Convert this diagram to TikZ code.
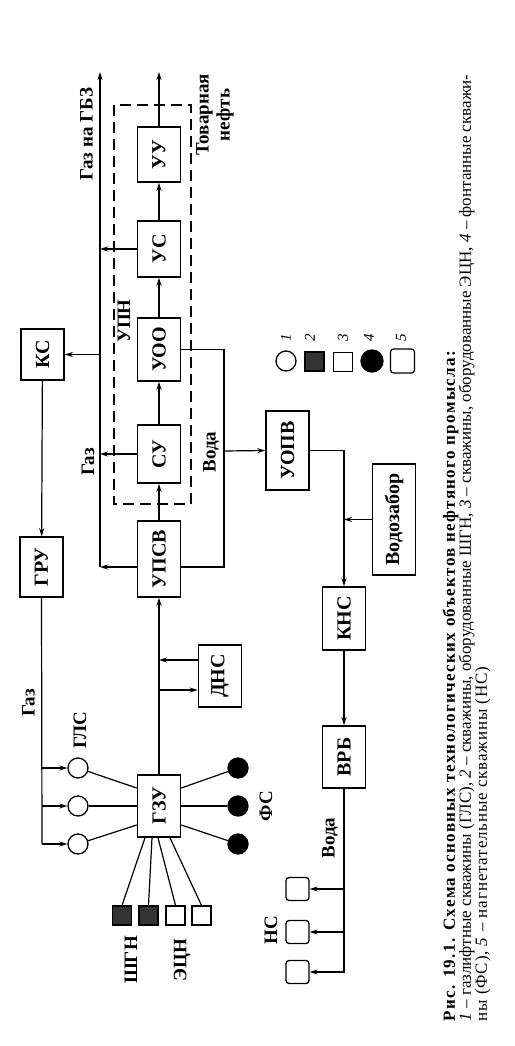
\documentclass[tikz,border=0pt]{standalone}
\usepackage{fontspec}
\setmainfont{Liberation Serif}
\usetikzlibrary{arrows.meta}

\begin{document}
\begin{tikzpicture}[x=1pt, y=-1pt, >={Stealth[length=8pt,width=5pt]}, line width=1.2pt,
  box/.style={draw, line width=1.6pt, rotate=90, minimum height=43pt, inner sep=0pt,
    font=\bfseries\fontsize{20}{22}\selectfont},
  lbl/.style={rotate=90, inner sep=0pt, font=\bfseries\fontsize{19}{21}\selectfont},
  num/.style={rotate=90, inner sep=0pt, font=\itshape\fontsize{15}{15}\selectfont},
  gls/.style={circle, draw, line width=1.3pt, minimum size=20pt, inner sep=0pt},
  fs/.style={gls, fill=black},
  shgn/.style={rectangle, draw, fill=black!80, line width=1.2pt, minimum size=19pt, inner sep=0pt},
  ecn/.style={rectangle, draw, line width=1.3pt, minimum size=19pt, inner sep=0pt},
  ns/.style={rectangle, rounded corners=3pt, draw, line width=1.3pt, minimum size=23pt, inner sep=0pt},
  upnbox/.style={line width=1.1pt, dash pattern=on 11pt off 6pt}]
  \useasboundingbox (0,0) rectangle (514,1046);
  % main blocks
  \node[box, minimum width=51pt] (ks) at (42.5,354.5) {КС};
  \node[box, minimum width=60pt] (gru) at (41.5,567) {ГРУ};
  \node[box, minimum width=76pt] (upsv) at (159,559) {УПСВ};
  \node[box, minimum width=58pt] (su) at (159,454) {СУ};
  \node[box, minimum width=63pt] (uoo) at (159,349.5) {УОО};
  \node[box, minimum width=56pt] (us) at (159,249) {УС};
  \node[box, minimum width=55pt] (uu) at (159,154.5) {УУ};
  \node[box, minimum width=79pt] (uopv) at (287.5,450.5) {УОПВ};
  \node[box, minimum width=111pt] (vz) at (394,519.5) {Водозабор};
  \node[box, minimum width=63pt] (kns) at (344,618.5) {КНС};
  \node[box, minimum width=62pt] (dns) at (220,676) {ДНС};
  \node[box, minimum width=62pt] (vrb) at (344,757) {ВРБ};
  \node[box, minimum width=62pt] (gzu) at (159,806) {ГЗУ};
  % UPN frame
  \draw[upnbox] (114,105) rectangle (191,504);
  \node[lbl] (upn) at (124,321) {УПН};
  % oil line
  \coordinate (otop) at (159,72);
  \draw[->] (gzu) -- (upsv);
  \draw[->] (upsv) -- (su);
  \draw[->] (su) -- (uoo);
  \draw[->] (uoo) -- (us);
  \draw[->] (us) -- (uu);
  \draw[->] (uu) -- (otop);
  \node[lbl, align=center] (oil) at (215,115) {Товарная\\нефть};
  % DNS loop
  \draw[->] ([yshift=-14pt]dns.north -| gzu) -- ([yshift=-14pt]dns.north);
  \draw[->] ([yshift=16pt]dns.north) -- ([yshift=16pt]dns.north -| gzu);
  % gas line
  \coordinate (gtop) at (100,72);
  \coordinate (gbot) at (100,567);
  \draw[->] (gbot) -- (gtop);
  \draw[->] ([yshift=-8pt]upsv.north) -- (gbot);
  \draw[->] (su.north) -- (su.north -| gtop);
  \draw[->] (us.north) -- (us.north -| gtop);
  \draw[->] (ks.south -| gtop) -- (ks.south);
  \node[lbl] (gasgbz) at (86.5,134) {Газ на ГБЗ};
  \node[lbl] (gas1) at (88,462) {Газ};
  % gas lift
  \draw[->] (ks) -- (gru);
  \coordinate (gbus) at (42,844);
  \draw (gru.west) -- (gbus);
  \node[lbl] (gas2) at (28.5,703) {Газ};
  \node[lbl] (glsl) at (80,730) {ГЛС};
  \node[gls] (gls1) at (78,768) {};
  \node[gls] (gls2) at (78,806) {};
  \node[gls] (gls3) at (78,844) {};
  \foreach \i in {1,2,3}
    \draw[->] (gls\i -| gbus) -- (gls\i);
  \draw (gls1) -- ([yshift=18pt]gzu.north);
  \draw (gls2) -- (gzu.north);
  \draw (gls3) -- ([yshift=-19pt]gzu.north);
  % flowing wells
  \node[fs] (fs1) at (238,768) {};
  \node[fs] (fs2) at (238,806) {};
  \node[fs] (fs3) at (238,844) {};
  \draw ([yshift=18pt]gzu.south) -- (fs1);
  \draw (gzu.south) -- (fs2);
  \draw ([yshift=-19pt]gzu.south) -- (fs3);
  \node[lbl] (fsl) at (266,806) {ФС};
  % pumped wells
  \node[shgn] (shgn1) at (122,915.5) {};
  \node[shgn] (shgn2) at (148.5,915.5) {};
  \node[ecn] (ecn1) at (175.5,915.5) {};
  \node[ecn] (ecn2) at (201.5,915.5) {};
  \draw ([xshift=-14pt]gzu.west) -- (shgn1.north);
  \draw ([xshift=-7pt]gzu.west) -- (shgn2.north);
  \draw ([xshift=-1pt]gzu.west) -- (ecn1.north);
  \draw ([xshift=11pt]gzu.west) -- (ecn2.north);
  \node[lbl] (shgnl) at (131,960) {ШГН};
  \node[lbl] (ecnl) at (182,960) {ЭЦН};
  % water
  \coordinate (wbus) at (224,451);
  \draw ([yshift=-8pt]upsv.south) -| (wbus) |- (uoo.south);
  \draw[->] (wbus) -- (uopv.north);
  \node[lbl] (water1) at (211,452) {Вода};
  \draw[->] (uopv.south) -| (kns);
  \draw[->] (vz.north) -- (vz.north -| kns);
  \draw[->] (kns) -- (vrb);
  \coordinate (wbot) at (344,973);
  \draw (vrb.west) -- (wbot);
  \node[ns] (ns1) at (297.5,889) {};
  \node[ns] (ns2) at (297.5,932) {};
  \node[ns] (ns3) at (297.5,972) {};
  \foreach \i in {1,2,3}
    \draw[->] (ns\i -| wbot) -- (ns\i);
  \node[lbl] (water2) at (330,838) {Вода};
  \node[lbl] (nsl) at (271,930) {НС};
  % legend
  \node[gls] (leg1) at (286,361) {};
  \node[shgn] (leg2) at (314.5,361.5) {};
  \node[ecn] (leg3) at (343,362) {};
  \node[fs, minimum size=22pt] (leg4) at (372,361) {};
  \node[ns, minimum size=24pt] (leg5) at (402.5,361) {};
  \foreach \i/\x in {1/286,2/310,3/343,4/369,5/401}
    \node[num] (num\i) at (\x,338) {\i};
  % caption
  \node[rotate=90, anchor=north west, align=left, inner sep=0pt,
    font=\fontsize{17}{16}\selectfont] (caption) at (442,1022)
    {{\bfseries\addfontfeatures{LetterSpace=8}Рис. 19.1. Схема основных технологических объектов нефтяного промысла:}\\
     \textit{1} – газлифтные скважины (ГЛС), \textit{2} – скважины, оборудованные ШГН, \textit{3} – скважины, оборудованные ЭЦН, \textit{4} – фонтанные скважи-\\
     {\addfontfeatures{LetterSpace=5}ны (ФС), \textit{5} – нагнетательные скважины (НС)}};
\end{tikzpicture}
\end{document}
